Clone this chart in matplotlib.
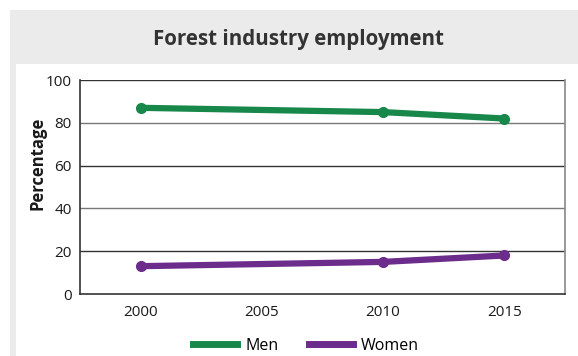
import matplotlib
matplotlib.use("Agg")
import matplotlib.pyplot as plt
from matplotlib.patches import Rectangle
from matplotlib.lines import Line2D

years = [2000, 2010, 2015]
men = [87, 85, 82]
women = [13, 15, 18]
xticks = [2000, 2005, 2010, 2015]
yticks = [0, 20, 40, 60, 80, 100]
title = "Forest industry employment"
ylabel = "Percentage"

W, H = 578, 356
fig = plt.figure(figsize=(W/100, H/100), dpi=100)
fig.patch.set_facecolor("white")

def fx(px): return px / W
def fy(py): return 1 - py / H

# gray panel and white plot area
fig.patches.append(Rectangle((fx(10), 0), 1 - fx(10), fy(10), transform=fig.transFigure,
                             facecolor="#ebebeb", edgecolor="none", zorder=-2))
fig.patches.append(Rectangle((fx(16), 0), 1 - fx(16), fy(64), transform=fig.transFigure,
                             facecolor="white", edgecolor="none", zorder=-1))

fig.text(fx(298), fy(40), title, ha="center", va="center", fontsize=14.8,
         fontweight="bold", family="Open Sans", color="#333333")

ax = fig.add_axes([fx(80), fy(294), fx(565) - fx(80), fy(80) - fy(294)])
ax.set_facecolor("none")
ax.set_xlim(1997.5, 2017.5)
ax.set_ylim(0, 100)
green = "#17874a"
purple = "#6b2c8c"
ax.plot(years, men, color=green, lw=4.5, marker="o", ms=7, solid_capstyle="round", zorder=3)
ax.plot(years, women, color=purple, lw=4.5, marker="o", ms=7, solid_capstyle="round", zorder=3)

for i, y in enumerate(yticks[1:]):
    ax.axhline(y, color="#333333" if y in (20, 60, 100) else "#777777", lw=1.0, zorder=1)
for s in ["left", "right", "bottom"]:
    ax.spines[s].set_color("#333333")
    ax.spines[s].set_linewidth(1.2)
ax.spines["top"].set_visible(False)
ax.spines["right"].set_color("#888888")

ax.set_xticks(xticks)
ax.set_yticks(yticks)
ax.tick_params(length=0, labelsize=11, colors="#1a1a1a", pad=8)
ax.tick_params(axis="y", pad=6)
for lab in ax.get_xticklabels() + ax.get_yticklabels():
    lab.set_family("Open Sans")

fig.text(fx(37), fy(163), ylabel, rotation=90, ha="center", va="center", fontsize=12,
         fontweight="bold", family="Open Sans", color="#1a1a1a")

handles = [Line2D([], [], color=green, lw=5), Line2D([], [], color=purple, lw=5)]
fig.legend(handles, ["Men", "Women"], loc="center", bbox_to_anchor=(fx(306), fy(346)),
           ncol=2, frameon=False, handlelength=2.75, columnspacing=1.9, handletextpad=0.5,
           prop={"family": "Open Sans", "size": 11.5})

fig.savefig("out.png", dpi=100)
